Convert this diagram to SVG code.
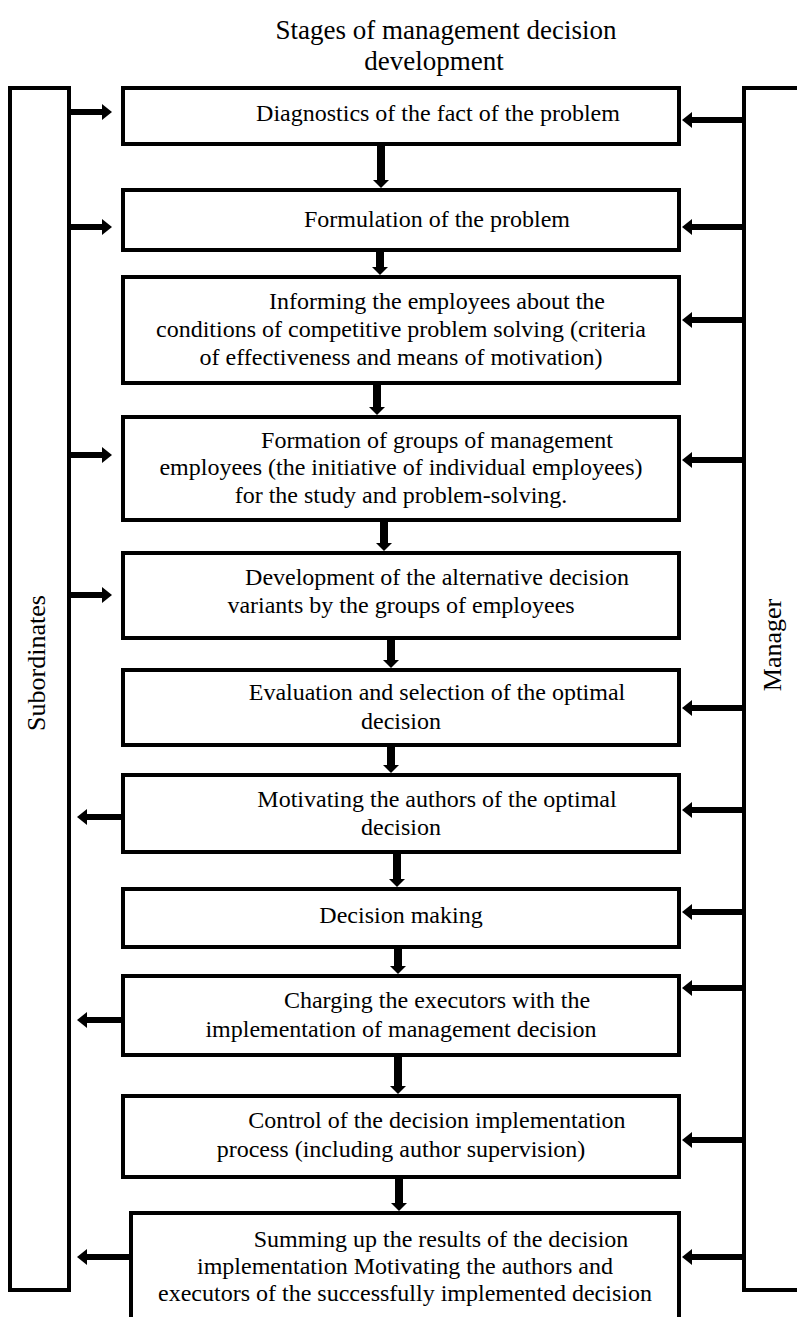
<svg xmlns="http://www.w3.org/2000/svg" width="797" height="1317" viewBox="0 0 797 1317">
<style>
.box{fill:#fff;stroke:#000;stroke-width:4}
.panel{fill:#fff;stroke:#000;stroke-width:4}
text{font-family:'Liberation Serif','Times New Roman',Tinos,'DejaVu Serif',serif;fill:#000;text-anchor:middle}
.t{font-size:24px}
.ti{font-size:27px}
.side{font-size:26px}
.h{stroke:#000;stroke-width:6;fill:none;marker-end:url(#ah)}
.v{stroke:#000;stroke-width:8;fill:none;marker-end:url(#ad)}
</style>
<defs>
<marker id="ah" viewBox="0 0 10 16" markerWidth="10" markerHeight="16" refX="0" refY="8" orient="auto" markerUnits="userSpaceOnUse"><path d="M0,0 L10,8 L0,16 Z" fill="#000"/></marker>
<marker id="ad" viewBox="0 0 8 16" markerWidth="8" markerHeight="16" refX="0" refY="8" orient="auto" markerUnits="userSpaceOnUse"><path d="M0,0 L8,8 L0,16 Z" fill="#000"/></marker>
</defs>
<rect width="797" height="1317" fill="#fff"/>
<g id="title" font-family="Liberation Serif, serif">
<text class="ti" x="446" y="39">Stages of management decision</text>
<text class="ti" x="434" y="70">development</text>
</g>
<g id="subordinates" font-family="Liberation Serif, serif">
<rect class="panel" x="10" y="88" width="59" height="1202"/>
<text class="side" transform="translate(45,663) rotate(-90)">Subordinates</text>
</g>
<g id="manager" font-family="Liberation Serif, serif">
<rect class="panel" x="744" y="88" width="80" height="1202"/>
<text class="side" transform="translate(781,645) rotate(-90)">Manager</text>
</g>
<g id="connectors">
<line class="h" x1="69" y1="112" x2="102" y2="112"/>
<line class="h" x1="69" y1="227" x2="102" y2="227"/>
<line class="h" x1="69" y1="455" x2="102" y2="455"/>
<line class="h" x1="69" y1="595" x2="102" y2="595"/>
<line class="h" x1="123" y1="817" x2="87" y2="817"/>
<line class="h" x1="123" y1="1020" x2="87" y2="1020"/>
<line class="h" x1="131" y1="1257" x2="87" y2="1257"/>
<line class="h" x1="744" y1="120" x2="692" y2="120"/>
<line class="h" x1="744" y1="227" x2="692" y2="227"/>
<line class="h" x1="744" y1="320" x2="692" y2="320"/>
<line class="h" x1="744" y1="460" x2="692" y2="460"/>
<line class="h" x1="744" y1="708" x2="692" y2="708"/>
<line class="h" x1="744" y1="810" x2="692" y2="810"/>
<line class="h" x1="744" y1="912" x2="692" y2="912"/>
<line class="h" x1="744" y1="988" x2="692" y2="988"/>
<line class="h" x1="744" y1="1140" x2="692" y2="1140"/>
<line class="h" x1="744" y1="1257" x2="692" y2="1257"/>
<line class="v" x1="381" y1="146" x2="381" y2="180"/>
<line class="v" x1="380" y1="252" x2="380" y2="267"/>
<line class="v" x1="377" y1="385" x2="377" y2="407"/>
<line class="v" x1="384" y1="522" x2="384" y2="543"/>
<line class="v" x1="391" y1="640" x2="391" y2="660"/>
<line class="v" x1="391" y1="747" x2="391" y2="765"/>
<line class="v" x1="397" y1="854" x2="397" y2="879"/>
<line class="v" x1="398" y1="949" x2="398" y2="966"/>
<line class="v" x1="398" y1="1057" x2="398" y2="1086"/>
<line class="v" x1="399" y1="1179" x2="399" y2="1203"/>
</g>
<g font-family="Liberation Serif, serif">
<g id="n1"><rect class="box" x="123" y="88" width="556" height="56"/>
<text class="t" x="438" y="121">Diagnostics of the fact of the problem</text></g>
<g id="n2"><rect class="box" x="123" y="190" width="556" height="60"/>
<text class="t" x="437" y="227">Formulation of the problem</text></g>
<g id="n3"><rect class="box" x="123" y="277" width="556" height="106"/>
<text class="t" x="437" y="309">Informing the employees about the</text>
<text class="t" x="401" y="337">conditions of competitive problem solving (criteria</text>
<text class="t" x="401" y="365">of effectiveness and means of motivation)</text></g>
<g id="n4"><rect class="box" x="123" y="417" width="556" height="103"/>
<text class="t" x="437" y="448">Formation of groups of management</text>
<text class="t" x="401" y="475">employees (the initiative of individual employees)</text>
<text class="t" x="401" y="503">for the study and problem-solving.</text></g>
<g id="n5"><rect class="box" x="123" y="553" width="556" height="85"/>
<text class="t" x="437" y="585">Development of the alternative decision</text>
<text class="t" x="401" y="613">variants by the groups of employees</text></g>
<g id="n6"><rect class="box" x="123" y="670" width="556" height="75"/>
<text class="t" x="437" y="700">Evaluation and selection of the optimal</text>
<text class="t" x="401" y="729">decision</text></g>
<g id="n7"><rect class="box" x="123" y="775" width="556" height="77"/>
<text class="t" x="437" y="807">Motivating the authors of the optimal</text>
<text class="t" x="401" y="835">decision</text></g>
<g id="n8"><rect class="box" x="123" y="889" width="556" height="58"/>
<text class="t" x="401" y="923">Decision making</text></g>
<g id="n9"><rect class="box" x="123" y="976" width="556" height="79"/>
<text class="t" x="437" y="1008">Charging the executors with the</text>
<text class="t" x="401" y="1037">implementation of management decision</text></g>
<g id="n10"><rect class="box" x="123" y="1096" width="556" height="81"/>
<text class="t" x="437" y="1128">Control of the decision implementation</text>
<text class="t" x="401" y="1157">process (including author supervision)</text></g>
<g id="n11"><rect class="box" x="131" y="1213" width="548" height="130"/>
<text class="t" x="441" y="1247">Summing up the results of the decision</text>
<text class="t" x="405" y="1274">implementation Motivating the authors and</text>
<text class="t" x="405" y="1301">executors of the successfully implemented decision</text></g>
</g>
</svg>
